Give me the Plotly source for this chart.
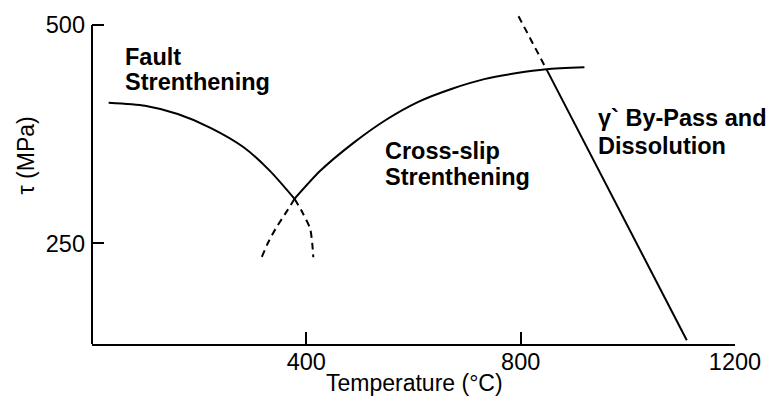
import plotly.graph_objects as go

# ---- data ----
fault_x = [31, 99, 160, 222, 283, 332, 378]
fault_y = [411, 407.5, 398, 382, 360, 333, 301]

fault_dash_x = [378, 393, 407, 411, 413]
fault_dash_y = [301, 285, 267, 250, 234]

cross_x = [378, 426, 488, 549, 609, 672, 732, 793, 848, 919]
cross_y = [301, 333, 365, 391.5, 412, 427, 438, 445, 449.3, 451.5]

cross_dash_x = [378, 365, 343, 328, 316]
cross_dash_y = [301, 288, 267, 250, 233]

bypass_dash_x = [796, 848]
bypass_dash_y = [510, 449.5]

bypass_x = [848, 1110]
bypass_y = [449.5, 139]

x_ticks = [400, 800, 1200]
y_ticks = [250, 500]
x_range = [0, 1200]
y_range = [134.7, 512.6]

x_title = "Temperature (°C)"
y_title = "τ (MPa)"
labels = [
    ("Fault", 123, 63),
    ("Strenthening", 123, 88),
    ("Cross-slip", 387, 157),
    ("Strenthening", 387, 183),
    ("γ` By-Pass and", 602, 124),
    ("Dissolution", 602, 152),
]

# ---- layout geometry ----
W, H = 773, 397
ML, MR, MT, MB = 92, 30, 13, 53
PW, PH = W - ML - MR, H - MT - MB
FONT = "Liberation Sans, Arial, sans-serif"


def px2paper(px, py):
    return (px - ML) / PW, (H - MB - py) / PH


fig = go.Figure()
solid = dict(color="black", width=2)
dashed = dict(color="black", width=2, dash="7px,5px")

fig.add_trace(go.Scatter(x=fault_x, y=fault_y, mode="lines",
                         line=dict(**solid, shape="spline", smoothing=0.7)))
fig.add_trace(go.Scatter(x=fault_dash_x, y=fault_dash_y, mode="lines",
                         line=dict(**dashed, shape="spline", smoothing=0.7)))
fig.add_trace(go.Scatter(x=cross_x, y=cross_y, mode="lines",
                         line=dict(**solid, shape="spline", smoothing=0.7)))
fig.add_trace(go.Scatter(x=cross_dash_x, y=cross_dash_y, mode="lines",
                         line=dict(**dashed, shape="spline", smoothing=0.7)))
fig.add_trace(go.Scatter(x=bypass_dash_x, y=bypass_dash_y, mode="lines", line=dashed))
fig.add_trace(go.Scatter(x=bypass_x, y=bypass_y, mode="lines", line=solid))

# y axis line only up to 500
y500 = (500 - y_range[0]) / (y_range[1] - y_range[0])
fig.add_shape(type="line", xref="paper", yref="paper", x0=0, x1=0, y0=0, y1=y500,
              line=dict(color="black", width=2))

for text, px, py in labels:
    xp, yp = px2paper(px, py - 7)
    fig.add_annotation(text=text, x=xp, y=yp, xref="paper", yref="paper",
                       xanchor="left", yanchor="middle", showarrow=False,
                       font=dict(family=FONT, size=23.5, color="black", weight="bold"))

xp, yp = px2paper(419, 383)
fig.add_annotation(text=x_title, x=xp, y=yp, xref="paper", yref="paper",
                   xanchor="center", yanchor="middle", showarrow=False,
                   font=dict(family=FONT, size=23, color="black"))
xp, yp = px2paper(25, 155)
fig.add_annotation(text=y_title, x=xp, y=yp, xref="paper", yref="paper",
                   xanchor="center", yanchor="middle", showarrow=False, textangle=-90,
                   font=dict(family=FONT, size=23, color="black"))

fig.update_layout(
    width=W, height=H,
    margin=dict(l=ML, r=MR, t=MT, b=MB, pad=0),
    paper_bgcolor="white", plot_bgcolor="white",
    showlegend=False,
    font=dict(family=FONT, size=23.5, color="black"),
    xaxis=dict(range=x_range, tickvals=x_ticks, ticks="inside", ticklen=12,
               tickwidth=2, tickcolor="black", showgrid=False, zeroline=False,
               showline=True, linecolor="black", linewidth=2, ticklabelstandoff=-4,
               tickfont=dict(family=FONT, size=23.5, color="black")),
    yaxis=dict(range=y_range, tickvals=y_ticks, ticks="inside", ticklen=12,
               tickwidth=2, tickcolor="black", showgrid=False, zeroline=False,
               showline=False, ticklabelstandoff=6,
               tickfont=dict(family=FONT, size=23.5, color="black")),
)

fig.write_html("out.html")
